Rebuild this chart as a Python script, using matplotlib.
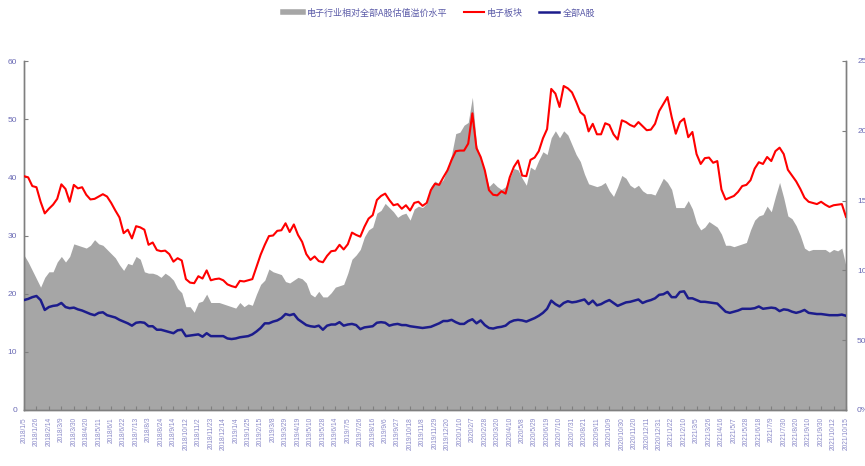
import matplotlib
matplotlib.use("Agg")
import matplotlib.pyplot as plt
from matplotlib.lines import Line2D
import numpy as np

plt.rcParams['font.family'] = ['Noto Sans CJK SC', 'DejaVu Sans']

# ---- data (weekly) ----
tick_labels = [
    "2018/1/5", "2018/1/26", "2018/2/14", "2018/3/9", "2018/3/30", "2018/4/20", "2018/5/11",
    "2018/6/1", "2018/6/22", "2018/7/13", "2018/8/3", "2018/8/24", "2018/9/14", "2018/10/12",
    "2018/11/2", "2018/11/23", "2018/12/14", "2019/1/4", "2019/1/25", "2019/2/15", "2019/3/8",
    "2019/3/29", "2019/4/19", "2019/5/10", "2019/5/28", "2019/6/14", "2019/7/5", "2019/7/26",
    "2019/8/16", "2019/9/6", "2019/9/27", "2019/10/18", "2019/11/8", "2019/11/29", "2019/12/20",
    "2020/1/10", "2020/2/7", "2020/2/28", "2020/3/20", "2020/4/10", "2020/5/8", "2020/5/29",
    "2020/6/19", "2020/7/10", "2020/7/31", "2020/8/21", "2020/9/11", "2020/10/9", "2020/10/30",
    "2020/11/20", "2020/12/11", "2020/12/31", "2021/1/22", "2021/2/10", "2021/3/5", "2021/3/26",
    "2021/4/16", "2021/5/7", "2021/5/28", "2021/6/18", "2021/7/9", "2021/7/30", "2021/8/20",
    "2021/9/10", "2021/9/30", "2021/10/12", "2021/10/15",
]

electronics_pe = [
    40.2, 40.0, 38.5, 38.3, 35.8, 33.8, 34.6, 35.3, 36.3, 38.8, 38.0, 35.8, 38.7, 38.1, 38.3, 37.0, 36.2,
    36.3, 36.7, 37.1, 36.7, 35.6, 34.3, 33.1, 30.4, 31.0, 29.5, 31.6, 31.4, 31.0, 28.4, 28.8, 27.5, 27.3,
    27.4, 26.8, 25.5, 26.1, 25.7, 22.5, 21.9, 21.8, 23.0, 22.6, 24.0, 22.3, 22.5, 22.6, 22.3, 21.6, 21.3,
    21.1, 22.2, 22.1, 22.3, 22.5, 24.6, 26.7, 28.4, 29.9, 30.0, 30.8, 30.9, 32.1, 30.6, 31.9, 30.1, 28.9,
    26.8, 25.8, 26.4, 25.6, 25.4, 26.5, 27.3, 27.4, 28.4, 27.6, 28.5, 30.5, 30.1, 29.8, 31.5, 32.9, 33.5,
    36.1, 36.8, 37.2, 36.1, 35.2, 35.4, 34.6, 35.2, 34.3, 35.6, 35.8, 35.1, 35.6, 37.8, 38.9, 38.7, 40.0,
    41.2, 43.0, 44.5, 44.6, 44.6, 45.8, 51.0, 45.0, 43.5, 41.2, 37.8, 37.0, 36.9, 37.6, 37.2, 40.0, 41.8,
    42.9, 40.3, 40.2, 43.0, 43.4, 44.5, 46.7, 48.3, 55.2, 54.4, 52.1, 55.7, 55.3, 54.6, 53.0, 51.2, 50.6,
    47.9, 49.2, 47.4, 47.4, 49.3, 49.0, 47.4, 46.5, 49.8, 49.5, 49.0, 48.7, 49.5, 48.8, 48.1, 48.2, 49.2,
    51.4, 52.6, 53.8, 50.4, 47.5, 49.5, 50.1, 46.9, 47.8, 44.0, 42.3, 43.3, 43.4, 42.5, 42.8, 37.9,
    36.2, 36.5, 36.8, 37.5, 38.5, 38.7, 39.5, 41.5, 42.6, 42.3, 43.5, 42.8, 44.5, 45.1, 44.0, 41.3, 40.3,
    39.3, 38.0, 36.5, 35.8, 35.6, 35.4, 35.8, 35.3, 34.9, 35.2, 35.3, 35.4, 33.2,
]

all_a_pe = [
    18.9, 19.1, 19.4, 19.6, 18.9, 17.2, 17.7, 17.9, 18.0, 18.4, 17.7, 17.5, 17.6, 17.3, 17.1, 16.8, 16.5,
    16.3, 16.7, 16.8, 16.3, 16.1, 15.9, 15.5, 15.2, 14.9, 14.5, 15.0, 15.1, 15.0, 14.4, 14.4, 13.8, 13.8,
    13.6, 13.4, 13.2, 13.7, 13.8, 12.7, 12.8, 12.9, 13.0, 12.6, 13.2, 12.7, 12.7, 12.7, 12.7, 12.3, 12.2,
    12.3, 12.5, 12.6, 12.7, 13.0, 13.5, 14.1, 14.9, 14.9, 15.2, 15.4, 15.8, 16.5, 16.3, 16.5, 15.6, 15.1,
    14.6, 14.4, 14.3, 14.5, 13.8, 14.5, 14.7, 14.7, 15.1, 14.5, 14.7, 14.8, 14.6, 13.9, 14.2, 14.3, 14.4,
    15.0, 15.1, 15.0, 14.5, 14.7, 14.8, 14.6, 14.6, 14.4, 14.3, 14.2, 14.1, 14.2, 14.3, 14.6, 14.9, 15.3,
    15.3, 15.5, 15.1, 14.8, 14.8, 15.3, 15.6, 14.9, 15.4, 14.6, 14.1, 14.0, 14.2, 14.3, 14.5, 15.1, 15.4,
    15.5, 15.4, 15.2, 15.5, 15.8, 16.2, 16.7, 17.4, 18.8, 18.2, 17.8, 18.4, 18.7, 18.5, 18.6, 18.8, 19.0,
    18.2, 18.8, 18.0, 18.2, 18.6, 18.9, 18.4, 17.9, 18.2, 18.5, 18.6, 18.8, 19.0, 18.4, 18.7, 18.9, 19.2,
    19.8, 19.9, 20.3, 19.4, 19.4, 20.3, 20.4, 19.2, 19.2, 18.9, 18.6, 18.6, 18.5, 18.4, 18.3, 17.6,
    16.9, 16.7, 16.9, 17.1, 17.4, 17.4, 17.4, 17.5, 17.8, 17.4, 17.5, 17.6, 17.5, 17.0, 17.3, 17.2, 16.9,
    16.7, 16.9, 17.2, 16.7, 16.6, 16.5, 16.5, 16.4, 16.3, 16.3, 16.3, 16.4, 16.2,
]

premium_pct = [
    111, 106, 100, 94, 88, 95, 99, 99, 106, 110, 106, 110, 119, 118, 117, 116, 118, 122, 119, 118, 115,
    112, 109, 104, 100, 105, 104, 110, 108, 99, 98, 98, 97, 95,
    98, 96, 93, 87, 84, 74, 74, 70, 77, 78, 83, 77, 77, 77, 76, 75, 74, 73, 77, 74, 76, 75, 83, 90, 93,
    101, 99, 98, 97, 92, 91, 93, 95, 94,
    91, 83, 81, 85, 81, 81, 84, 88, 89, 90, 98, 108, 111, 115, 124, 129, 131, 141, 143, 148, 145, 142,
    138, 140, 141, 136, 144, 146, 145, 148, 160, 164, 162, 165,
    173, 183, 198, 199, 204, 206, 224, 190, 180, 171, 160, 163, 160, 158, 160, 166, 173, 172, 166, 161,
    174, 172, 179, 185, 183, 195, 200, 195, 200, 197, 190, 183, 178, 169,
    162, 161, 160, 161, 163, 157, 153, 160, 168, 166, 161, 159, 161, 157, 155, 155, 154, 160, 166, 163,
    158, 145, 145, 145, 150, 144, 134, 129, 131, 135, 133, 131, 126,
    118, 118, 117, 118, 119, 120, 129, 136, 139, 140, 146, 142, 153, 163, 152, 139, 137, 132, 125, 116,
    114, 115, 115, 115, 115, 113, 115, 114, 116, 103,
]

series_names = ["电子行业相对全部A股估值溢价水平", "电子板块", "全部A股"]

# ---- styling ----
GRAY = "#A6A6A6"
RED = "#FF0000"
NAVY = "#1C1C8C"
TICK_COLOR = "#6B6BB5"
XTICK_COLOR = "#8A8AC8"
SPINE = "#7F7F7F"

n = len(electronics_pe)
x = np.arange(n)

fig = plt.figure(figsize=(8.65, 4.66), dpi=100)
ax = fig.add_axes([24 / 865, 1 - 410 / 466, (846 - 24) / 865, (410 - 61) / 466])
ax2 = ax.twinx()

ax2.fill_between(x, 0, premium_pct, color=GRAY, linewidth=0, zorder=1)
ax.plot(x, electronics_pe, color=RED, lw=1.5, zorder=3)
ax.plot(x, all_a_pe, color=NAVY, lw=1.8, zorder=3)

ax.set_zorder(ax2.get_zorder() + 1)
ax.patch.set_visible(False)

ax.set_xlim(0, n - 1)
ax.set_ylim(0, 60)
ax2.set_ylim(0, 250)
ax.set_yticks(np.arange(0, 61, 10))
ax2.set_yticks(np.arange(0, 251, 50))
ax2.set_yticklabels([f"{v}%" for v in range(0, 251, 50)])

tick_pos = np.arange(0, n, 3)
ax.set_xticks(tick_pos)
ax.set_xticklabels(tick_labels, rotation=90, fontsize=4.8, color=XTICK_COLOR,
                   family=['Liberation Sans', 'DejaVu Sans'])

for a in (ax, ax2):
    for s in a.spines.values():
        s.set_color(SPINE)
        s.set_linewidth(1.0)
    a.spines['top'].set_visible(False)

ax.tick_params(axis='x', direction='in', length=3, width=0.8, color=SPINE, pad=5)
ax.tick_params(axis='y', direction='in', length=3, width=0.8, color=SPINE, pad=5,
               labelsize=6, labelcolor=TICK_COLOR)
ax2.tick_params(axis='y', direction='in', length=3, width=0.8, color=SPINE, pad=8,
                labelsize=6, labelcolor=TICK_COLOR)
for lab in ax.get_yticklabels() + ax2.get_yticklabels():
    lab.set_family(['Liberation Sans', 'DejaVu Sans'])

handles = [
    Line2D([0], [0], color=GRAY, lw=4),
    Line2D([0], [0], color=RED, lw=1.5),
    Line2D([0], [0], color=NAVY, lw=1.8),
]
leg = fig.legend(handles, series_names, loc='center', bbox_to_anchor=(0.508, 0.972), ncol=3,
                 frameon=False, fontsize=6.5, handlelength=2.2, columnspacing=1.8,
                 handletextpad=0.4)
for t in leg.get_texts():
    t.set_color("#5B5BA8")

fig.savefig("out.png", dpi=100)
